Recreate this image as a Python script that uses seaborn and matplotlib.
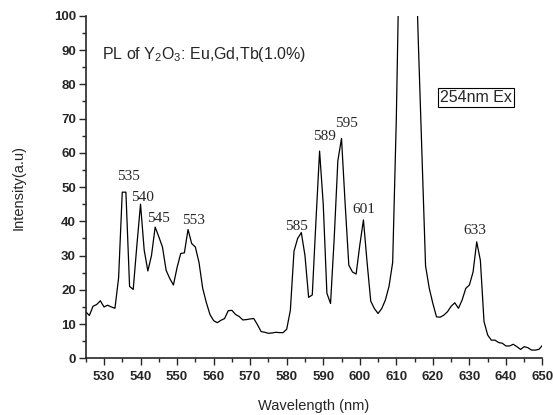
import numpy as np
import pandas as pd
import matplotlib
matplotlib.use("Agg")
import matplotlib.pyplot as plt
from matplotlib.ticker import MultipleLocator
import seaborn as sns

wavelength = list(range(525, 651))
intensity = [
    13.6, 12.5, 15.2, 15.7, 16.8, 15.0, 15.5, 15.0, 14.6, 23.5,   # 525-534
    48.5, 48.5, 21.0, 20.1, 33.0, 45.0, 31.6, 25.5, 30.0, 38.3,   # 535-544
    35.5, 32.5, 25.7, 23.3, 21.4, 26.5, 30.6, 30.8, 37.6, 33.5,   # 545-554
    32.5, 28.0, 20.5, 16.3, 12.8, 11.0, 10.4, 11.1, 11.6, 13.9,   # 555-564
    14.0, 12.8, 12.2, 11.2, 11.3, 11.5, 11.6, 9.8, 7.8, 7.6,      # 565-574
    7.3, 7.4, 7.6, 7.5, 7.5, 8.5, 14.0, 31.3, 35.0, 36.7,         # 575-584
    30.0, 17.8, 18.5, 40.0, 60.5, 45.0, 19.0, 16.0, 35.0, 57.7,   # 585-594
    64.2, 45.0, 27.2, 25.2, 24.6, 33.0, 40.4, 28.0, 16.7, 14.5,   # 595-604
    13.1, 14.5, 17.0, 21.0, 28.0, 70.0, 130.0, 160.0, 170.0, 160.0,  # 605-614
    130.0, 93.0, 60.0, 27.0, 20.5, 16.0, 12.1, 12.0, 12.6, 13.6,  # 615-624
    15.2, 16.2, 14.6, 17.0, 20.4, 21.4, 25.2, 34.0, 28.6, 10.7,   # 625-634
    6.8, 5.3, 5.3, 4.6, 4.4, 3.6, 3.6, 4.1, 3.4, 2.6,             # 635-644
    3.4, 3.1, 2.4, 2.4, 2.6, 3.8,                                 # 645-650
]

peak_labels = ["535", "540", "545", "553", "585", "589", "595", "601", "633"]
peak_label_x = [536.6, 540.6, 545.0, 554.4, 582.7, 590.4, 596.5, 601.2, 631.6]
peak_label_y = [53.2, 47.0, 40.9, 40.1, 38.6, 64.9, 68.6, 43.3, 37.4]

df = pd.DataFrame({"Wavelength": wavelength, "Intensity": intensity})

sns.set_style("ticks")
plt.rcParams["font.family"] = ["Liberation Sans", "DejaVu Sans"]

fig = plt.figure(figsize=(5.53, 4.15), dpi=100)
ax = fig.add_axes([0.155, 0.1366, 0.826, 0.8254])

sns.lineplot(data=df, x="Wavelength", y="Intensity", ax=ax, color="black", linewidth=0.9)

ax.set_xlim(525, 650)
ax.set_ylim(0, 100)
ax.xaxis.set_major_locator(MultipleLocator(10))
ax.xaxis.set_minor_locator(MultipleLocator(5))
ax.yaxis.set_major_locator(MultipleLocator(10))
ax.yaxis.set_minor_locator(MultipleLocator(5))
ax.tick_params(which="major", direction="out", length=5, width=1, labelsize=9.5)
ax.tick_params(axis="x", which="major", pad=4)
ax.tick_params(axis="y", which="major", pad=2)
ax.tick_params(which="minor", direction="out", length=3, width=1)
for lab in ax.get_xticklabels() + ax.get_yticklabels():
    lab.set_fontweight("bold")

sns.despine(ax=ax)
for s in ("left", "bottom"):
    ax.spines[s].set_linewidth(1.2)

ax.set_xlabel("Wavelength (nm)", fontsize=10.5, labelpad=12)
ax.set_ylabel("Intensity(a.u)", fontsize=10.5, labelpad=20)

for t, x, y in zip(peak_labels, peak_label_x, peak_label_y):
    ax.text(x, y, t, ha="center", va="center", fontsize=11,
            family=["Liberation Serif", "DejaVu Serif"])

fig.text(102.5 / 553, 1 - 55 / 415,
         r"PL of Y$_\mathregular{2}$O$_\mathregular{3}$: Eu,Gd,Tb(1.0%)",
         ha="left", va="center", fontsize=11.5)

fig.text(475.8 / 553, 1 - 97.5 / 415, "254nm Ex", ha="center", va="center",
         fontsize=11.5,
         bbox=dict(boxstyle="square,pad=0.12", facecolor="white", edgecolor="black", linewidth=0.8))

fig.savefig("out.png", dpi=100)
